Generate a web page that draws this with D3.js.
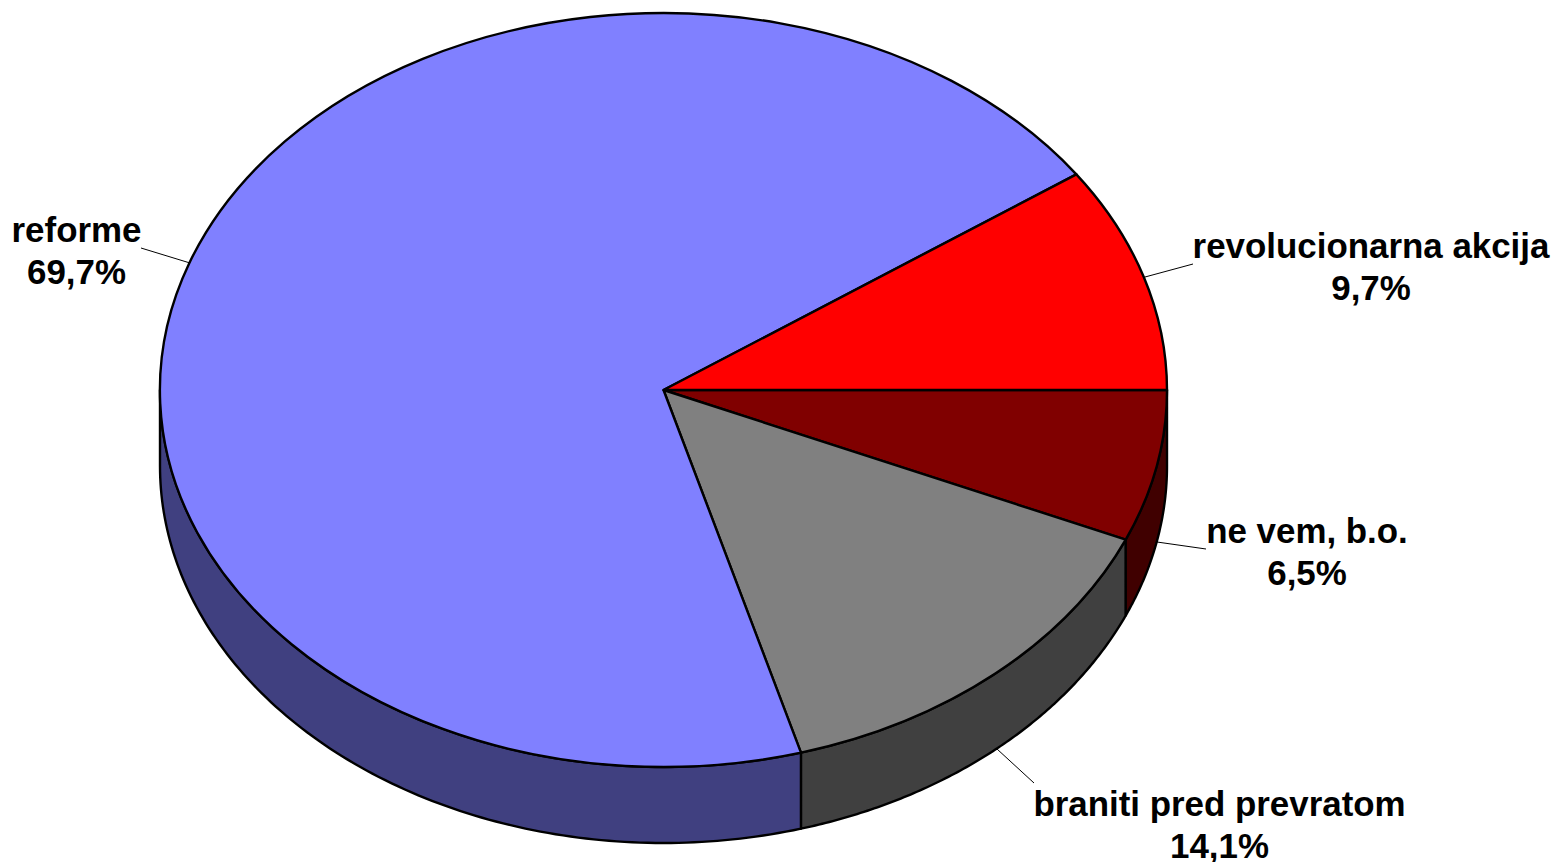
<!DOCTYPE html>
<html><head><meta charset="utf-8">
<script src="https://cdn.jsdelivr.net/npm/d3@7/dist/d3.min.js"></script>
<style>html,body{margin:0;padding:0;background:#fff;overflow:hidden}svg{display:block}</style>
</head><body><svg id="c" width="1560" height="862"></svg>
<script>
const categories = ["ne vem, b.o.", "braniti pred prevratom", "reforme", "revolucionarna akcija"];
const values = [6.5, 14.1, 69.7, 9.7];
const valueLabels = ["6,5%", "14,1%", "69,7%", "9,7%"];
const topColors = ["#800000", "#808080", "#8080ff", "#ff0000"];
const sideColors = ["#400000", "#404040", "#404080", "#800000"];
const labelX = [1307, 1219.5, 76.5, 1371];
const labelY = [531, 804, 230, 246];
const leaderFrom = [[1206,549],[1034,783],[141,248],[1193,264]];
const leaderTo = [[1157,542],[997,749],[190,263],[1145,277]];

const cx = 663.5, cy = 390, rx = 503.5, ry = 377, depth = 76;
const svg = d3.select("#c");
const pie = d3.pie().sort(null).startAngle(Math.PI/2).endAngle(Math.PI/2 + 2*Math.PI);
const arcs = pie(values);
// point on the ellipse from d3 angle (0 = north, clockwise)
const px = a => cx + rx*Math.sin(a), py = a => cy - ry*Math.cos(a);
const line = d3.line().x(d=>d[0]).y(d=>d[1]);
const FRONT0 = Math.PI/2, FRONT1 = 3*Math.PI/2;

arcs.forEach((d,i)=>{
  const a0 = Math.max(d.startAngle, FRONT0), a1 = Math.min(d.endAngle, FRONT1);
  if (a1 <= a0) return;
  const angles = d3.range(0,121).map(k=>a0+(a1-a0)*k/120);
  const upper = angles.map(a=>[px(a),py(a)]);
  const lower = angles.slice().reverse().map(a=>[px(a),py(a)+depth]);
  svg.append("path").attr("d", line(upper.concat(lower))+"Z")
    .attr("fill", sideColors[i]).attr("stroke","#000").attr("stroke-width",2.4).attr("stroke-linejoin","round");
});
const arcGen = d3.arc().innerRadius(0).outerRadius(1);
svg.append("g").attr("transform",`translate(${cx},${cy}) scale(${rx},${ry})`)
  .selectAll("path").data(arcs).join("path")
  .attr("d", arcGen)
  .attr("fill",(d,i)=>topColors[i])
  .attr("stroke","#000").attr("stroke-width",2.4)
  .attr("stroke-linejoin","round")
  .attr("vector-effect","non-scaling-stroke");

categories.forEach((c,i)=>{
  svg.append("line").attr("x1",leaderFrom[i][0]).attr("y1",leaderFrom[i][1])
    .attr("x2",leaderTo[i][0]).attr("y2",leaderTo[i][1]).attr("stroke","#000").attr("stroke-width",1);
  const t = svg.append("text").attr("text-anchor","middle")
    .attr("font-family","'Liberation Sans',Arial,sans-serif").attr("font-weight","bold").attr("font-size",34.9).attr("fill","#000");
  t.append("tspan").attr("x",labelX[i]).attr("y",labelY[i]+12).text(c);
  t.append("tspan").attr("x",labelX[i]).attr("y",labelY[i]+54).text(valueLabels[i]);
});
</script></body></html>
